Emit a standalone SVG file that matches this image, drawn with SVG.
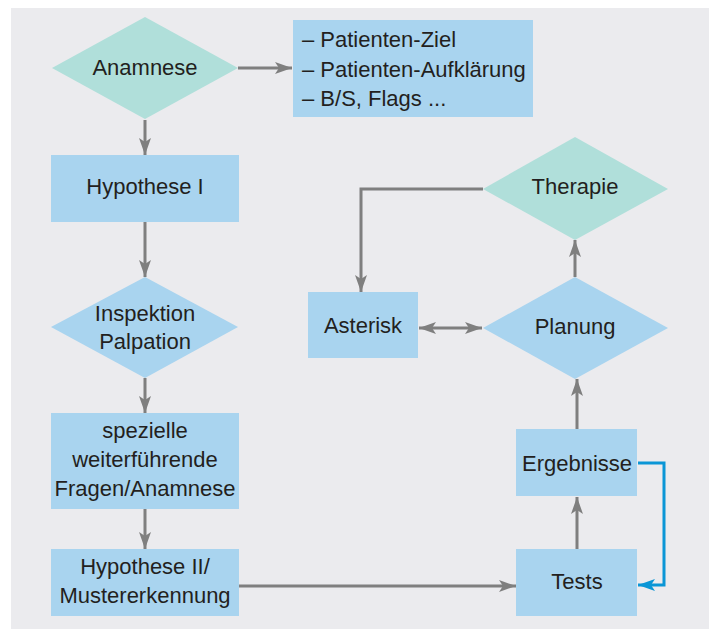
<svg xmlns="http://www.w3.org/2000/svg" width="709" height="629" viewBox="0 0 709 629">
<defs>
<style>
.bg{fill:#ebebee}
.box{fill:#a9d4ef}
.dia{fill:#b0dfda}
.dib{fill:#a9d4ef}
text{font-family:"Liberation Sans",Arial,sans-serif;font-size:22px;fill:#231f20}
.c{text-anchor:middle}
.ln{fill:none;stroke:#7f7f7f;stroke-width:3}
.bl{fill:none;stroke:#0a96d6;stroke-width:3}
</style>
<marker id="ah" viewBox="0 0 17 12" refX="17" refY="6" markerWidth="17" markerHeight="12" markerUnits="userSpaceOnUse" orient="auto-start-reverse">
<path d="M0,0 L17,6 L0,12 L4,6 z" fill="#7f7f7f"/>
</marker>
<marker id="ahb" viewBox="0 0 17 12" refX="17" refY="6" markerWidth="17" markerHeight="12" markerUnits="userSpaceOnUse" orient="auto">
<path d="M0,0 L17,6 L0,12 L4,6 z" fill="#0a96d6"/>
</marker>
</defs>
<rect class="bg" x="11" y="8" width="698" height="621"/>

<g id="connectors">
<line class="ln" x1="238" y1="68" x2="292" y2="68" marker-end="url(#ah)"/>
<line class="ln" x1="145" y1="120" x2="145" y2="155" marker-end="url(#ah)"/>
<line class="ln" x1="145" y1="222" x2="145" y2="277" marker-end="url(#ah)"/>
<line class="ln" x1="145" y1="378" x2="145" y2="413" marker-end="url(#ah)"/>
<line class="ln" x1="145" y1="509" x2="145" y2="549" marker-end="url(#ah)"/>
<line class="ln" x1="239" y1="586" x2="516" y2="586" marker-end="url(#ah)"/>
<line class="ln" x1="577" y1="549" x2="577" y2="497" marker-end="url(#ah)"/>
<line class="ln" x1="577" y1="429" x2="577" y2="379" marker-end="url(#ah)"/>
<line class="ln" x1="575" y1="277" x2="575" y2="240" marker-end="url(#ah)"/>
<polyline class="ln" points="483,189 361,189 361,292" marker-end="url(#ah)"/>
<line class="ln" x1="419" y1="328" x2="482" y2="328" marker-start="url(#ah)" marker-end="url(#ah)"/>
<polyline class="bl" points="638,463 664,463 664,585 638,585" marker-end="url(#ahb)"/>
</g>

<g id="anamnese">
<polygon class="dia" points="52,68 145,17 238,68 145,119"/>
<text class="c" x="145" y="75">Anamnese</text>
</g>
<g id="liste">
<rect class="box" x="293" y="20" width="240" height="97"/>
<text x="302" y="47">– Patienten-Ziel</text>
<text x="302" y="77">– Patienten-Aufklärung</text>
<text x="302" y="106">– B/S, Flags ...</text>
</g>
<g id="hypothese1">
<rect class="box" x="51" y="155" width="188" height="67"/>
<text class="c" x="145" y="194">Hypothese I</text>
</g>
<g id="inspektion">
<polygon class="dib" points="51,327 145,277 238,327 145,378"/>
<text class="c" x="145" y="321">Inspektion</text>
<text class="c" x="145" y="349">Palpation</text>
</g>
<g id="spezielle">
<rect class="box" x="51" y="413" width="188" height="96"/>
<text class="c" x="145" y="438">spezielle</text>
<text class="c" x="145" y="467">weiterführende</text>
<text class="c" x="145" y="496">Fragen/Anamnese</text>
</g>
<g id="hypothese2">
<rect class="box" x="51" y="549" width="188" height="67"/>
<text class="c" x="145" y="574">Hypothese II/</text>
<text class="c" x="145" y="603">Mustererkennung</text>
</g>
<g id="tests">
<rect class="box" x="516" y="549" width="121" height="67"/>
<text class="c" x="577" y="589">Tests</text>
</g>
<g id="ergebnisse">
<rect class="box" x="516" y="429" width="121" height="67"/>
<text class="c" x="577" y="471">Ergebnisse</text>
</g>
<g id="planung">
<polygon class="dib" points="483,328 575,277 668,328 575,379"/>
<text class="c" x="575" y="334">Planung</text>
</g>
<g id="therapie">
<polygon class="dia" points="483,189 575,137 668,189 575,240"/>
<text class="c" x="575" y="194">Therapie</text>
</g>
<g id="asterisk">
<rect class="box" x="308" y="292" width="110" height="66"/>
<text class="c" x="363" y="333">Asterisk</text>
</g>
</svg>
